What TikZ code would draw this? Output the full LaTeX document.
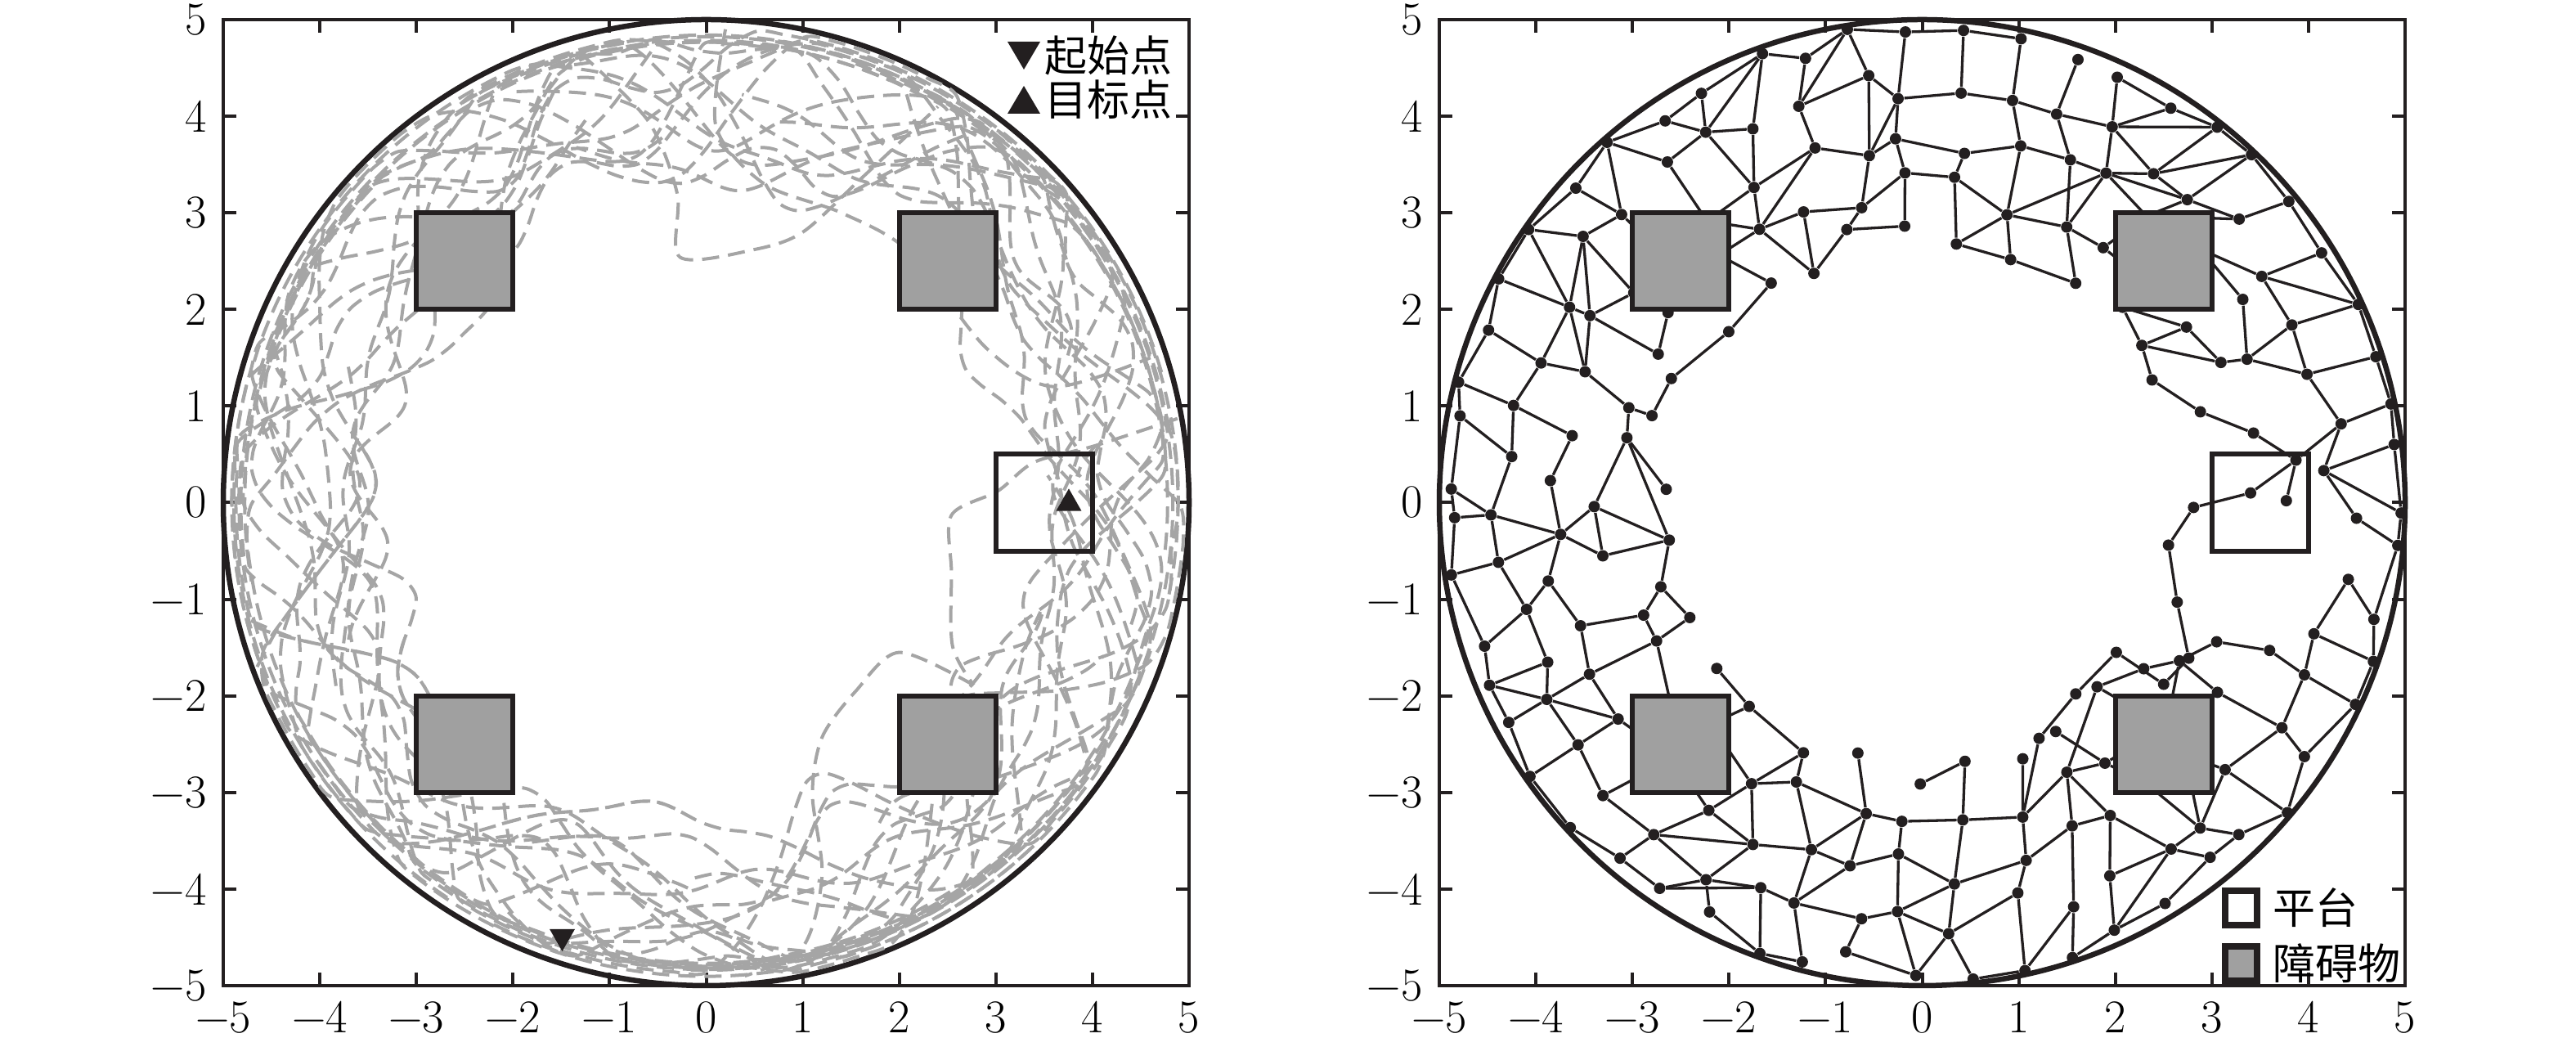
\documentclass[tikz,border=0pt]{standalone}
\usepackage{fontspec}
\newfontfamily\cjk{Noto Sans CJK SC}
\definecolor{ink}{HTML}{231F20}
\definecolor{obst}{HTML}{A0A0A0}
\definecolor{traj}{HTML}{A5A5A5}
\makeatletter
\newcommand\ifnodeexists[3]{\pgfutil@ifundefined{pgf@sh@ns@#1}{#3}{#2}}
\makeatother
\newcommand\mayedge[3]{%
  \pgfmathtruncatemacro\pp{rnd<#1}%
  \ifnum\pp=1 \ifnodeexists{#2}{\ifnodeexists{#3}{\draw[edge] (#2) -- (#3);}{}}{}\fi}
\tikzset{
  frame/.style={draw=ink, line width=0.04cm},
  wall/.style={draw=ink, line width=0.065cm},
  obstacle/.style={fill=obst, draw=ink, line width=0.06cm},
  platform/.style={draw=ink, line width=0.06cm},
  trajline/.style={draw=traj, line width=0.04cm, dash pattern=on 0.21cm off 0.11cm},
  edge/.style={draw=ink, line width=0.033cm},
  dot/.style={circle, fill=ink, inner sep=0pt, minimum size=0.14cm},
  ticklab/.style={inner sep=0pt, font=\fontsize{16.3}{19}\selectfont},
  cjklab/.style={inner sep=0pt, font=\cjk\fontsize{14.8}{17}\selectfont, anchor=west},
  marker/.style={fill=ink},
}
\begin{document}
\begin{tikzpicture}
\useasboundingbox (0,0) rectangle (31.5,12.8);
\pgfmathsetseed{20240}

% ================= LEFT PANEL =================
\begin{scope}[shift={(8.635cm,6.655cm)}, x=1.181cm, y=1.181cm]
  \draw[frame] (-5,-5) rectangle (5,5);
  \foreach \t in {-4,...,4} {
    \draw[frame] (\t,-5) -- ++(0,0.135);
    \draw[frame] (\t,5) -- ++(0,-0.135);
    \draw[frame] (-5,\t) -- ++(0.135,0);
    \draw[frame] (5,\t) -- ++(-0.135,0);
  }
  \foreach \t/\l in {-5/−5,-4/−4,-3/−3,-2/−2,-1/−1,0/0,1/1,2/2,3/3,4/4,5/5} {
    \node[ticklab, anchor=base, yshift=-0.58cm] (Lx\t) at (\t,-5) {\l};
    \node[ticklab, anchor=east, xshift=-0.2cm] (Ly\t) at (-5,\t) {\l};
  }
  \draw[wall] (0,0) circle (5);
  % trajectories
  \foreach \p in {1,...,26} {
    \pgfmathsetmacro\Ra{4.25+0.5*rnd}
    \pgfmathsetmacro\Aa{0.5+0.8*rnd}
    \pgfmathtruncatemacro\Na{2+int(4*rnd)}
    \pgfmathsetmacro\Pa{360*rnd}
    \pgfmathsetmacro\Ab{0.3*rnd}
    \pgfmathtruncatemacro\Nb{7+int(6*rnd)}
    \pgfmathsetmacro\Pb{360*rnd}
    \pgfmathsetmacro\Cap{4.97-0.22*rnd}
    \pgfmathsetmacro\Ts{360*rnd}
    \pgfmathsetmacro\Te{\Ts+150+250*rnd}
    \draw[trajline] plot[smooth, domain=\Ts:\Te, samples=100, variable=\t]
      ({min(\Cap,max(2.5,\Ra+\Aa*sin(\Na*\t+\Pa)+\Ab*sin(\Nb*\t+\Pb)+0.05*sin(17*(\t-\Ts)+\p*10)))*cos(\t)},
       {min(\Cap,max(2.5,\Ra+\Aa*sin(\Na*\t+\Pa)+\Ab*sin(\Nb*\t+\Pb)+0.05*sin(17*(\t-\Ts)+\p*10)))*sin(\t)});
  }
  \draw[trajline] plot[smooth, tension=0.5] coordinates {(4.88,0.87) (4.03,0.59) (3.4,0.42) (3.02,0.12) (2.54,-0.13) (2.54,-0.72) (2.55,-1.48) (2.77,-1.89)};
  \draw[trajline] plot[smooth, tension=0.5] coordinates {(2.77,-1.89) (2.0,-1.55) (1.55,-1.95) (1.2,-2.43) (1.1,-3.02) (1.2,-3.86) (1.0,-4.6) (0.4,-4.9)};
  \draw[trajline] plot[smooth, tension=0.5] coordinates {(4.03,0.59) (3.9,0.42) (3.84,0.27)};
  \draw[trajline] plot[smooth, tension=0.5] coordinates {(-1.3,4.65) (-0.6,3.95) (-0.3,3.2) (-0.27,2.54) (0.5,2.62) (1.0,2.8) (1.6,3.35) (2.4,4.1)};
  \draw[trajline] plot[smooth, tension=0.5] coordinates {(0.2,4.9) (0.1,3.9) (0.6,3.3) (1.4,3.0) (2.1,2.6) (2.9,1.6) (3.6,1.2) (4.6,1.5)};
  % obstacles and platform
  \foreach \cx/\cy in {-2.5/2.5, 2.5/2.5, -2.5/-2.5, 2.5/-2.5}
    \draw[obstacle] (\cx-0.5,\cy-0.5) rectangle (\cx+0.5,\cy+0.5);
  \draw[platform] (3,-0.5) rectangle (4,0.5);
  % markers
  \fill[marker] (3.624,-0.085) -- (3.886,-0.085) -- (3.755,0.145) -- cycle;
  \fill[marker] (-1.621,-4.415) -- (-1.359,-4.415) -- (-1.49,-4.645) -- cycle;
\end{scope}

% left legend
\fill[marker] (12.32,12.29) -- (12.72,12.29) -- (12.52,11.95) -- cycle;
\fill[marker] (12.32,11.41) -- (12.72,11.41) -- (12.52,11.75) -- cycle;
\node[cjklab] (lg1) at (12.77,12.12) {起始点};
\node[cjklab] (lg2) at (12.77,11.58) {目标点};

% ================= RIGHT PANEL =================
\begin{scope}[shift={(23.505cm,6.655cm)}, x=1.181cm, y=1.181cm]
  \draw[frame] (-5,-5) rectangle (5,5);
  \foreach \t in {-4,...,4} {
    \draw[frame] (\t,-5) -- ++(0,0.135);
    \draw[frame] (\t,5) -- ++(0,-0.135);
    \draw[frame] (-5,\t) -- ++(0.135,0);
    \draw[frame] (5,\t) -- ++(-0.135,0);
  }
  \foreach \t/\l in {-5/−5,-4/−4,-3/−3,-2/−2,-1/−1,0/0,1/1,2/2,3/3,4/4,5/5} {
    \node[ticklab, anchor=base, yshift=-0.58cm] (Rx\t) at (\t,-5) {\l};
    \node[ticklab, anchor=east, xshift=-0.2cm] (Ry\t) at (-5,\t) {\l};
  }
  \draw[wall] (0,0) circle (5);
  % mesh nodes
  \foreach \ia/\Rr/\na in {0/4.86/55,1/4.33/49,2/3.8/43,3/3.27/37,4/2.78/31} {
    \foreach \ja in {1,...,\na} {
      \pgfmathsetmacro\th{(\ja+0.5*mod(\ia,2))/\na*360}
      \pgfmathtruncatemacro\ok{or(\ia<2, and(\th>24,\th<336))}
      \pgfmathsetmacro\rr{min(4.96,\Rr+0.17*rand)}
      \pgfmathsetmacro\ang{\th+0.28/\na*360*rand}
      \ifnum\ok=1
        \node[dot] (m\ia-\ja) at (\ang:\rr) {};
      \fi
    }
  }
  % chain nodes
  \foreach \nm/\px/\py in {ch0/3.77/0.02, ch1/2.81/-0.05, ch2/2.55/-0.44, ch3/2.64/-1.03,
      ch4/2.76/-1.61, ch5/2.5/-1.88, ch6/2.01/-1.55, ch7/1.59/-1.98, ch8/1.21/-2.44,
      p1/3.4/0.10, p3/3.87/0.44, q1/3.43/0.72, q2/2.88/0.94, q3/2.38/1.27}
    \node[dot] (\nm) at (\px,\py) {};
  % mesh edges
  \foreach \ia/\na/\ib/\nb in {0/55/1/49,1/49/2/43,2/43/3/37,3/37/4/31} {
    \foreach \ja in {1,...,\na} {
      \pgfmathtruncatemacro\jn{mod(\ja,\na)+1}
      \mayedge{0.9}{m\ia-\ja}{m\ia-\jn}
      \pgfmathsetmacro\fr{(\ja+0.5*mod(\ia,2))/\na}
      \pgfmathtruncatemacro\kb{mod(round(\fr*\nb-0.5*mod(\ib,2))+2*\nb-1,\nb)+1}
      \pgfmathtruncatemacro\kp{mod(\kb,\nb)+1}
      \mayedge{0.87}{m\ia-\ja}{m\ib-\kb}
      \mayedge{0.22}{m\ia-\ja}{m\ib-\kp}
    }
  }
  \foreach \ja in {1,...,31} {
    \pgfmathtruncatemacro\jn{mod(\ja,31)+1}
    \mayedge{0.75}{m4-\ja}{m4-\jn}
  }
  % chain edges
  \draw[edge] (ch0) -- (p3);
  \draw[edge] (ch1) -- (p1) -- (p3) -- (q1) -- (q2) -- (q3);
  \draw[edge] (ch1) -- (ch2) -- (ch3) -- (ch4) -- (ch5) -- (ch6) -- (ch7) -- (ch8);
  \ifnodeexists{m1-1}{\draw[edge] (p3) -- (m1-1);}{}
  \ifnodeexists{m4-3}{\draw[edge] (q3) -- (m4-3);}{}
  \ifnodeexists{m3-29}{\draw[edge] (ch8) -- (m3-29);}{}
  % obstacles and platform
  \foreach \cx/\cy in {-2.5/2.5, 2.5/2.5, -2.5/-2.5, 2.5/-2.5}
    \draw[obstacle] (\cx-0.5,\cy-0.5) rectangle (\cx+0.5,\cy+0.5);
  \draw[platform] (3,-0.5) rectangle (4,0.5);
\end{scope}

% right legend
\draw[draw=ink, fill=white, line width=0.08cm] (27.21,1.49) rectangle (27.60,1.91);
\draw[draw=ink, fill=obst, line width=0.08cm] (27.21,0.81) rectangle (27.60,1.23);
\node[cjklab] (lg3) at (27.79,1.70) {平台};
\node[cjklab] (lg4) at (27.79,1.02) {障碍物};
\end{tikzpicture}
\end{document}
